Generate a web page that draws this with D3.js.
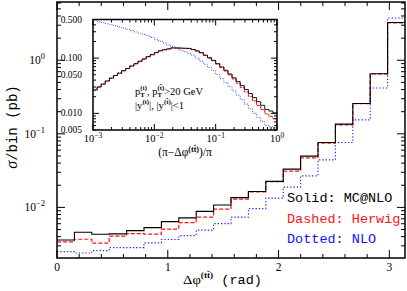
<!DOCTYPE html>
<html><head><meta charset="utf-8">
<script src="https://cdn.jsdelivr.net/npm/d3@7"></script>
<style>body{margin:0;background:#fff}svg{display:block}</style>
</head><body>
<svg id="c" width="407" height="291"></svg>
<script>
// ---------------- data ----------------
// main histogram: 20 bins over [0, pi]
const phiRange = [0, Math.PI];
const nMainBins = 20;
const mcnlo  = [0.00361,0.00460,0.00432,0.00436,0.00483,0.00531,0.00641,0.00720,0.00882,0.01075,
                0.01359,0.01641,0.0226,0.0331,0.0497,0.0761,0.1355,0.258,0.655,3.27];
const herwig = [0.00339,0.00369,0.00326,0.00406,0.00440,0.00432,0.00505,0.00621,0.00736,0.00946,
                0.01293,0.01625,0.0224,0.0311,0.0471,0.0745,0.1325,0.258,0.655,3.23];
const nlo    = [0.00250,0.00240,0.00258,0.00284,0.00284,0.00329,0.00365,0.00413,0.00490,0.00602,
                0.00736,0.00963,0.01334,0.01883,0.0268,0.0443,0.0761,0.155,0.419,3.75];
const mainYTicks = [0.01, 0.1, 1];
const mainYTickExp = ["-2", "-1", "0"];
const mainXTicks = [0, 1, 2, 3];

// inset: (pi - dphi)/pi, log bins, 15 per decade from 1e-3 to 1
const insetXDomain = [1e-3, 1];
const insetBinsPerDecade = 15;
const insetMcnlo = [0.0266,0.0301,0.0340,0.0385,0.0435,0.0484,0.0535,0.0590,0.0651,0.0719,
                    0.0793,0.0876,0.0964,0.106,0.1156,0.1256,0.1361,0.1416,0.1469,0.1528,
                    0.1528,0.1518,0.1507,0.150,0.1432,0.1352,0.1256,0.113,0.1014,0.091,
                    0.0794,0.0692,0.0603,0.0515,0.0440,0.0376,0.0318,0.0270,0.0228,0.0193,
                    0.0163,0.0140,0.0118,0.0110,0.0102];
const insetHerwig = [0.0262,0.0300,0.0338,0.0388,0.0432,0.0486,0.0532,0.0593,0.0648,0.0722,
                    0.0790,0.0879,0.0960,0.1065,0.1150,0.1262,0.1355,0.1420,0.1465,0.1532,
                    0.1524,0.1520,0.1500,0.149,0.1425,0.1345,0.1245,0.112,0.1000,0.0895,
                    0.0778,0.0675,0.0585,0.0500,0.0420,0.0352,0.0295,0.0245,0.0203,0.0168,
                    0.0139,0.0117,0.0098,0.0088,0.0080];
const insetNlo = [0.480,0.459,0.440,0.421,0.404,0.385,0.366,0.348,0.330,0.314,
                  0.298,0.284,0.270,0.254,0.236,0.219,0.203,0.188,0.174,0.162,
                  0.150,0.140,0.131,0.1217,0.1135,0.100,0.0879,0.0773,0.0679,0.0597,
                  0.0506,0.0428,0.0361,0.0304,0.0255,0.0214,0.0178,0.0147,0.0121,0.01005,
                  0.00847,0.00713,0.00604,0.00574,0.00546];
const insetYLabels = [0.5, 0.1, 0.05, 0.01, 0.005];
const insetYLabelText = ["0.500","0.100","0.050","0.010","0.005"];
const insetXTicks = [1e-3, 1e-2, 1e-1, 1];
const insetXExp = ["-3","-2","-1","0"];

// ---------------- drawing ----------------
const svg = d3.select("#c");
const serif = "'Liberation Serif','Times New Roman',serif";
const mono = "'Liberation Mono','DejaVu Sans Mono',monospace";

// sequential rich text with sup/sub and overbars, optionally fitted to a width / centred
function rich(parent, x0, y0, parts, fam, color, fitWidth, center) {
  color = color || "#000";
  const g = parent.append("g");
  let cx = x0, groupStart = x0;
  parts.forEach(p => {
    if (p.mark) { groupStart = cx; return; }
    const px = p.back ? groupStart : cx;
    const yy = y0 + (p.dy || 0);
    const el = g.append("text").attr("x", px).attr("y", yy)
      .attr("font-family", p.fam || fam).attr("font-size", p.size).attr("fill", color).text(p.t);
    if (p.italic) el.attr("font-style", "italic");
    if (p.bold) el.attr("font-weight", "bold");
    const w = el.node().getComputedTextLength();
    if (p.bar) {
      const by = yy - p.size * 0.78;
      g.append("line").attr("x1", px + 0.2).attr("x2", px + w - 0.2).attr("y1", by).attr("y2", by)
        .attr("stroke", color).attr("stroke-width", 0.7);
    }
    cx = p.back ? Math.max(cx, px + w) : px + w;
  });
  const W = cx - x0;
  if (center) {
    g.attr("transform", `translate(${-W / 2},0)`);
  } else if (fitWidth) {
    const s = fitWidth / W;
    g.attr("transform", `translate(${x0},0) scale(${s},1) translate(${-x0},0)`);
  }
  return g;
}

const M = {l: 57, r: 405, t: 2, b: 258};
const x = d3.scaleLinear().domain(phiRange).range([M.l, M.r]);
const y = d3.scaleLog().domain([0.00205, 6.2]).range([M.b, M.t]);

function stepPoints(vals, edges) {
  const pts = vals.map((v, i) => [edges[i], v]);
  pts.push([edges[vals.length], vals[vals.length - 1]]);
  return pts;
}
const mainEdges = d3.range(nMainBins + 1).map(i => phiRange[0] + i * (phiRange[1] - phiRange[0]) / nMainBins);

const gMain = svg.append("g");
const lineMain = d3.line().x(d => x(d[0])).y(d => y(d[1])).curve(d3.curveStepAfter);
[
  {vals: nlo, color: "#2020ff", dash: "1.3,2", w: 1.1},
  {vals: herwig, color: "#ff1010", dash: "4,2", w: 1.2},
  {vals: mcnlo, color: "#000", dash: null, w: 1.1},
].forEach(s => {
  gMain.append("path").attr("d", lineMain(stepPoints(s.vals, mainEdges)))
    .attr("fill", "none").attr("stroke", s.color).attr("stroke-width", s.w)
    .attr("stroke-dasharray", s.dash);
});

function logTicks(domain) {
  const out = [];
  for (let e = Math.floor(Math.log10(domain[0])); e <= Math.ceil(Math.log10(domain[1])); e++) {
    for (let k = 1; k <= 9; k++) {
      const v = k * Math.pow(10, e);
      if (v >= domain[0] * 0.9999 && v <= domain[1] * 1.0001) out.push({v, major: k === 1});
    }
  }
  return out;
}
const gT = svg.append("g").attr("stroke", "#000").attr("stroke-width", 1);
logTicks(y.domain()).forEach(t => {
  const L = t.major ? 8 : 4;
  gT.append("line").attr("x1", M.l).attr("x2", M.l + L).attr("y1", y(t.v)).attr("y2", y(t.v));
  gT.append("line").attr("x1", M.r).attr("x2", M.r - L).attr("y1", y(t.v)).attr("y2", y(t.v));
});
d3.range(0, 3.15, 0.2).forEach(v => {
  const major = Math.abs(v - Math.round(v)) < 1e-6;
  const L = major ? 8 : 4;
  gT.append("line").attr("x1", x(v)).attr("x2", x(v)).attr("y1", M.b).attr("y2", M.b - L);
  gT.append("line").attr("x1", x(v)).attr("x2", x(v)).attr("y1", M.t).attr("y2", M.t + L);
});

svg.append("rect").attr("x", M.l).attr("y", M.t).attr("width", M.r - M.l).attr("height", M.b - M.t)
  .attr("fill", "none").attr("stroke", "#000").attr("stroke-width", 1.5);

mainYTicks.forEach((v, i) => {
  const t = svg.append("text").attr("x", 45).attr("y", y(v) + 4).attr("text-anchor", "end")
    .attr("font-family", serif).attr("font-size", 11.5);
  t.append("tspan").text("10");
  t.append("tspan").attr("dy", -5).attr("font-size", 8.5).text(mainYTickExp[i].replace("-", "\u2212"));
});
mainXTicks.forEach(v => {
  svg.append("text").attr("x", x(v)).attr("y", 271).attr("text-anchor", "middle")
    .attr("font-family", serif).attr("font-size", 11.5).text(v);
});

// y title
const yl = svg.append("text").attr("transform", "translate(17,127) rotate(-90)")
  .attr("text-anchor", "middle").attr("font-family", mono).attr("font-size", 14);
yl.append("tspan").attr("font-family", serif).attr("font-style", "italic").attr("font-size", 16).text("\u03c3");
yl.append("tspan").text("/bin (pb)");

// x title
rich(svg, 183, 284, [
  {t: "\u0394\u03c6", size: 13.5, fam: serif},
  {t: "(", size: 8.5, dy: -6, fam: serif, bold: true},
  {t: "t", size: 8.5, dy: -6, fam: serif, bold: true},
  {t: "t", size: 8.5, dy: -6, fam: serif, bold: true, bar: true},
  {t: ")", size: 8.5, dy: -6, fam: serif, bold: true},
  {t: "\u00a0(rad)", size: 12.5, fam: mono}
], mono, null, 79);

// legend
[["Solid: MC@NLO", "#000"], ["Dashed: Herwig", "#ff1010"], ["Dotted: NLO", "#1010ff"]].forEach((d, i) => {
  svg.append("text").attr("x", 287).attr("y", 202 + i * 20.5).attr("font-family", mono)
    .attr("font-size", 13.5).attr("fill", d[1]).text(d[0]);
});

// ---------------- inset ----------------
const I = {l: 93, r: 277, t: 19.5, b: 130};
const xi = d3.scaleLog().domain(insetXDomain).range([I.l, I.r]);
const yi = d3.scaleLog().domain([0.005, 0.5]).range([I.b, I.t]);
const nIn = insetMcnlo.length;
const insetEdges = d3.range(nIn + 1).map(i => Math.pow(10, Math.log10(insetXDomain[0]) + i / insetBinsPerDecade));
const lineIn = d3.line().x(d => xi(d[0])).y(d => yi(d[1])).curve(d3.curveStepAfter);
const gIn = svg.append("g");
gIn.append("rect").attr("x", I.l).attr("y", I.t).attr("width", I.r - I.l).attr("height", I.b - I.t).attr("fill", "#fff");
[
  {vals: insetNlo, color: "#3030ff", dash: "1,1.5", w: 0.9},
  {vals: insetHerwig, color: "#ff1010", dash: "3,1", w: 1},
  {vals: insetMcnlo, color: "#000", dash: null, w: 0.9},
].forEach(s => {
  gIn.append("path").attr("d", lineIn(stepPoints(s.vals, insetEdges)))
    .attr("fill", "none").attr("stroke", s.color).attr("stroke-width", s.w).attr("stroke-dasharray", s.dash);
});
const gIT = svg.append("g").attr("stroke", "#000").attr("stroke-width", 1);
logTicks(yi.domain()).forEach(t => {
  const L = t.major ? 6 : 3;
  gIT.append("line").attr("x1", I.l).attr("x2", I.l + L).attr("y1", yi(t.v)).attr("y2", yi(t.v));
  gIT.append("line").attr("x1", I.r).attr("x2", I.r - L).attr("y1", yi(t.v)).attr("y2", yi(t.v));
});
logTicks(xi.domain()).forEach(t => {
  const L = t.major ? 6 : 3;
  gIT.append("line").attr("x1", xi(t.v)).attr("x2", xi(t.v)).attr("y1", I.b).attr("y2", I.b - L);
  gIT.append("line").attr("x1", xi(t.v)).attr("x2", xi(t.v)).attr("y1", I.t).attr("y2", I.t + L);
});
svg.append("rect").attr("x", I.l).attr("y", I.t).attr("width", I.r - I.l).attr("height", I.b - I.t)
  .attr("fill", "none").attr("stroke", "#000").attr("stroke-width", 1.5);

insetYLabels.forEach((v, i) => {
  svg.append("text").attr("x", 82).attr("y", yi(v) + 3).attr("text-anchor", "end")
    .attr("font-family", serif).attr("font-size", 9.5).text(insetYLabelText[i]);
});
insetXTicks.forEach((v, i) => {
  const t = svg.append("text").attr("x", xi(v)).attr("y", 142).attr("text-anchor", "middle")
    .attr("font-family", serif).attr("font-size", 10.5);
  t.append("tspan").text("10");
  t.append("tspan").attr("dy", -4).attr("font-size", 7.5).text(insetXExp[i].replace("-", "\u2212"));
});

// inset x title, centred under the inset
rich(svg, (I.l + I.r) / 2, 156, [
  {t: "(\u03c0\u2212\u0394\u03c6", size: 11.5, fam: serif},
  {t: "(", size: 8, dy: -4.5, bold: true},
  {t: "t", size: 8, dy: -4.5, bold: true},
  {t: "t", size: 8, dy: -4.5, bold: true, bar: true},
  {t: ")", size: 8, dy: -4.5, bold: true},
  {t: ")/\u03c0", size: 11.5}
], serif, null, null, true);

// inset captions
rich(svg, 135, 95, [
  {t: "p", size: 11},
  {mark: true},
  {t: "(t)", size: 7, dy: -5, bold: true},
  {t: "T", size: 7, dy: 2.5, back: true, bold: true},
  {t: ", p", size: 11},
  {mark: true},
  {t: "(", size: 7, dy: -5, bold: true},
  {t: "t", size: 7, dy: -5, bold: true, bar: true},
  {t: ")", size: 7, dy: -5, bold: true},
  {t: "T", size: 7, dy: 2.5, back: true, bold: true},
  {t: ">20 GeV", size: 11}
], serif, null, 68);
rich(svg, 135, 109, [
  {t: "|y", size: 11},
  {t: "(t)", size: 7, dy: -5, bold: true},
  {t: "|, |y", size: 11},
  {t: "(", size: 7, dy: -5, bold: true},
  {t: "t", size: 7, dy: -5, bold: true, bar: true},
  {t: ")", size: 7, dy: -5, bold: true},
  {t: "|<1", size: 11}
], serif, null, 49);
</script>
</body></html>
